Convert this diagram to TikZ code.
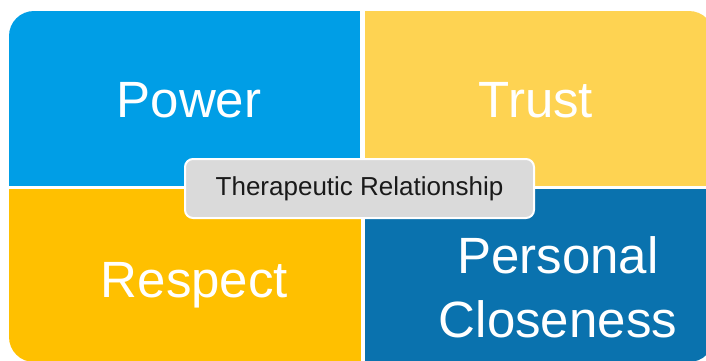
\documentclass[tikz,border=0pt]{standalone}
\usepackage{fontspec}
\setmainfont{Liberation Sans}
\usepackage{xcolor}
\definecolor{powerblue}{HTML}{009EE6}
\definecolor{trustyellow}{HTML}{FED352}
\definecolor{respectamber}{HTML}{FFC000}
\definecolor{closeblue}{HTML}{0A72AE}
\definecolor{relgray}{HTML}{DADADA}
\definecolor{relink}{HTML}{1A1A1A}

\begin{document}
\begin{tikzpicture}[
  x=1pt, y=-1pt,
  quadtext/.style={text=white, font=\fontsize{51}{64}\selectfont, align=center, inner sep=0pt},
  centrebox/.style={draw=white, line width=2pt, rounded corners=8pt, fill=relgray, text=relink,
    minimum width=349pt, minimum height=59pt, font=\fontsize{26}{31}\selectfont}
]
\useasboundingbox (0,0) rectangle (706,360);

% OUTER FRAME (only the outer corners get rounded)
\clip[rounded corners=25pt] (9,11) rectangle (714,362);

% QUADRANTS
\fill[powerblue] (9,11) rectangle (360,186);
\fill[trustyellow] (365,11) rectangle (714,186);
\fill[respectamber] (9,189) rectangle (361,362);
\fill[closeblue] (365,189) rectangle (714,362);

% LABELS
\node[quadtext, anchor=base] (power) at (189,117) {Power};
\node[quadtext, anchor=base] (trust) at (536,117) {Trust};
\node[quadtext, anchor=base] (respect) at (194.5,297) {Respect};
\node[quadtext] (closeness) at (558,287.5) {Personal\\Closeness};

% CENTRE BOX
\node[centrebox] (rel) at (359.5,188.5) {Therapeutic Relationship};

\end{tikzpicture}
\end{document}
